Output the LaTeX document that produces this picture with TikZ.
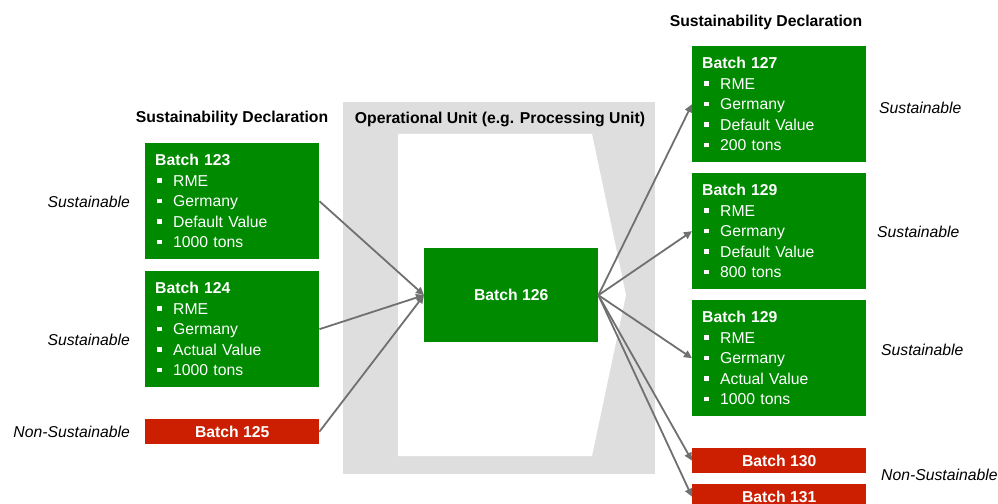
\documentclass[tikz,border=0pt]{standalone}
\usepackage{fontspec}
\setmainfont{Liberation Sans}
\usetikzlibrary{arrows.meta}
\definecolor{bgreen}{HTML}{008A00}
\definecolor{bred}{HTML}{CC1E00}
\definecolor{ugray}{HTML}{DEDEDE}
\definecolor{agray}{HTML}{707070}
\newcommand{\bl}{\makebox[18bp][l]{\hspace{2bp}\raisebox{3.4bp}{\rule{4.5bp}{4.5bp}}}}
\newcommand{\fs}{\fontsize{15.8}{20.6}\selectfont}
\begin{document}
\begin{tikzpicture}[x=1bp,y=-1bp,
  gbox/.style={fill=bgreen, text=white, minimum width=174bp, minimum height=116bp,
    inner sep=0pt, anchor=north west, font=\fs, align=left, text width=154bp},
  rbox/.style={fill=bred, text=white, minimum width=174bp, minimum height=25bp,
    inner sep=0pt, anchor=north west, font=\fs\bfseries},
  hdr/.style={font=\fs\bfseries, inner sep=0pt},
  lbl/.style={font=\fs\itshape, inner sep=0pt},
  arr/.style={draw=agray, line width=1.8bp, -{Triangle[length=8bp,width=7.5bp]}}]
\useasboundingbox (0,0) rectangle (998,504);
\fill[white] (0,0) rectangle (998,504);
% operational unit
\fill[ugray] (343,102) rectangle (655,474);
\fill[white] (398,134) -- (592,134) -- (626,295) -- (592,456) -- (398,456) -- cycle;
\node[hdr] (ouhdr) at (500,119) {Operational Unit (e.g. Processing Unit)};
\node[fill=bgreen, text=white, minimum width=174bp, minimum height=94bp, inner sep=0pt,
  anchor=north west, font=\fs\bfseries] (b126) at (424,248) {Batch 126};
% left side
\node[hdr] (lhdr) at (232,118) {Sustainability Declaration};
\node[gbox] (b123) at (145,143) {\textbf{Batch 123}\\\bl RME\\\bl Germany\\\bl Default Value\\\bl 1000 tons};
\node[gbox] (b124) at (145,271) {\textbf{Batch 124}\\\bl RME\\\bl Germany\\\bl Actual Value\\\bl 1000 tons};
\node[rbox] (b125) at (145,419) {Batch 125};
\node[lbl, anchor=east] (l123) at (130,202) {Sustainable};
\node[lbl, anchor=east] (l124) at (130,340) {Sustainable};
\node[lbl, anchor=east] (l125) at (130,432) {Non-Sustainable};
% right side
\node[hdr] (rhdr) at (766,22) {Sustainability Declaration};
\node[gbox] (b127) at (692,46) {\textbf{Batch 127}\\\bl RME\\\bl Germany\\\bl Default Value\\\bl 200 tons};
\node[gbox] (b129) at (692,173) {\textbf{Batch 129}\\\bl RME\\\bl Germany\\\bl Default Value\\\bl 800 tons};
\node[gbox] (b129b) at (692,300) {\textbf{Batch 129}\\\bl RME\\\bl Germany\\\bl Actual Value\\\bl 1000 tons};
\node[rbox] (b130) at (692,448) {Batch 130};
\node[rbox] (b131) at (692,484) {Batch 131};
\node[lbl, anchor=west] (l127) at (879,108) {Sustainable};
\node[lbl, anchor=west] (l129) at (877,232) {Sustainable};
\node[lbl, anchor=west] (l129b) at (881,350) {Sustainable};
\node[lbl, anchor=west] (l130) at (881,475) {Non-Sustainable};
% connectors
\draw[arr] (b123.east) -- (b126.west);
\draw[arr] (b124.east) -- (b126.west);
\draw[arr] (b125.east) -- (b126.west);
\draw[arr] (b126.east) -- (b127.west);
\draw[arr] (b126.east) -- (b129.west);
\draw[arr] (b126.east) -- (b129b.west);
\draw[arr] (b126.east) -- (b130.west);
\draw[arr] (b126.east) -- (b131.west);
\end{tikzpicture}
\end{document}
